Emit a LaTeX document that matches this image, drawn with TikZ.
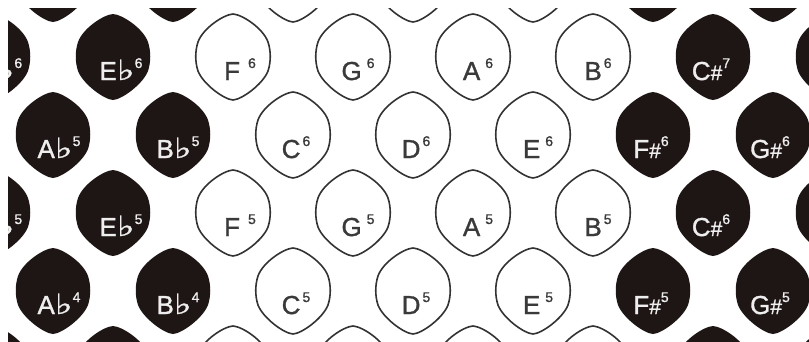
\documentclass[tikz,border=0pt]{standalone}
\usepackage{fontspec}
\setmainfont{Liberation Sans}[FakeBold=1.2]
\newfontfamily\symfont{DejaVu Sans}[FakeBold=1]
\definecolor{keyblack}{HTML}{1E1614}
\definecolor{keyline}{HTML}{333333}
\definecolor{labdark}{HTML}{3A3A3A}
\definecolor{lablight}{HTML}{EEEEEE}
\newcommand\oct[1]{\raisebox{12pt}{\fontsize{14}{14}\selectfont #1}}
\newcommand\shp{{\fontsize{21}{21}\selectfont\#}}
\newcommand\flt{\scalebox{1.35}[1]{\symfont\fontsize{28}{28}\selectfont ♭}}
\tikzset{
  lemon/.pic={\path[pic actions] (0,-43) .. controls (9,-42.5) and (30,-29) .. (35,-15)
     .. controls (38,-6) and (38,5) .. (35,14)
     .. controls (30,27) and (9,42.5) .. (0,43)
     .. controls (-9,42.5) and (-30,27) .. (-35,14)
     .. controls (-38,5) and (-38,-6) .. (-35,-15)
     .. controls (-30,-29) and (-9,-42.5) .. (0,-43) -- cycle;},
  wkey/.style={draw=keyline, fill=white, line width=1.6pt},
  bkey/.style={fill=keyblack},
  wlab/.style={anchor=base, inner sep=0pt, text=labdark, font=\fontsize{26}{26}\selectfont},
  blab/.style={anchor=base, inner sep=0pt, text=lablight, font=\fontsize{26}{26}\selectfont},
}
% key: x, y, name, label, dx
\newcommand\WK[5]{\pic[wkey] at (#1,#2) {lemon}; \node[wlab] (#3) at ({#1+#5},{#2+23}) {#4};}
\newcommand\BK[5]{\pic[bkey] at (#1,#2) {lemon}; \node[blab] (#3) at ({#1+#5},{#2+23}) {#4};}
\newcommand\WKo[2]{\pic[wkey] at (#1,#2) {lemon};}
\newcommand\BKo[2]{\pic[bkey] at (#1,#2) {lemon};}
\begin{document}
\begin{tikzpicture}[x=1pt,y=-1pt]
\useasboundingbox[fill=white] (0,0) rectangle (809,341);
\clip (8,8) rectangle (809,341);
% top partial row
\BKo{53}{-21} \BKo{173}{-21} \WKo{293}{-21} \WKo{413}{-21} \WKo{533}{-21} \BKo{653}{-21} \BKo{773}{-21}
% row A
\BK{-7}{57}{db6}{D\flt\oct{6}}{7}
\BK{113}{57}{eb6}{E\flt\oct{6}}{8}
\WK{233}{57}{f6}{F\kern8pt\oct{6}}{7}
\WK{353}{57}{g6}{G\kern5pt\oct{6}}{5}
\WK{473}{57}{a6}{A\kern5pt\oct{6}}{5}
\WK{593}{57}{b6}{B\kern2pt\oct{6}}{5}
\BK{713}{57}{cs7}{C\shp\oct{7}}{-2}
\BKo{833}{57}
% row B
\BK{53}{135}{ab5}{A\flt\oct{5}}{6}
\BK{173}{135}{bb5}{B\flt\oct{5}}{5}
\WK{293}{135}{c6}{C\kern2pt\oct{6}}{3}
\WK{413}{135}{d6}{D\kern2pt\oct{6}}{3}
\WK{533}{135}{e6}{E\kern5pt\oct{6}}{5}
\BK{653}{135}{fs6}{F\shp\oct{6}}{-2}
\BK{773}{135}{gs6}{G\shp\oct{6}}{-3}
% row C
\BK{-7}{213}{db5}{D\flt\oct{5}}{7}
\BK{113}{213}{eb5}{E\flt\oct{5}}{8}
\WK{233}{213}{f5}{F\kern8pt\oct{5}}{7}
\WK{353}{213}{g5}{G\kern5pt\oct{5}}{5}
\WK{473}{213}{a5}{A\kern5pt\oct{5}}{5}
\WK{593}{213}{b5}{B\kern2pt\oct{5}}{5}
\BK{713}{213}{cs6}{C\shp\oct{6}}{-2}
\BKo{833}{213}
% row D
\BK{53}{291}{ab4}{A\flt\oct{4}}{6}
\BK{173}{291}{bb4}{B\flt\oct{4}}{5}
\WK{293}{291}{c5}{C\kern2pt\oct{5}}{3}
\WK{413}{291}{d5}{D\kern2pt\oct{5}}{3}
\WK{533}{291}{e5}{E\kern5pt\oct{5}}{5}
\BK{653}{291}{fs5}{F\shp\oct{5}}{-2}
\BK{773}{291}{gs5}{G\shp\oct{5}}{-3}
% bottom partial row
\BKo{-7}{369} \BKo{113}{369} \WKo{233}{369} \WKo{353}{369} \WKo{473}{369} \WKo{593}{369} \BKo{713}{369} \BKo{833}{369}
\end{tikzpicture}
\end{document}
